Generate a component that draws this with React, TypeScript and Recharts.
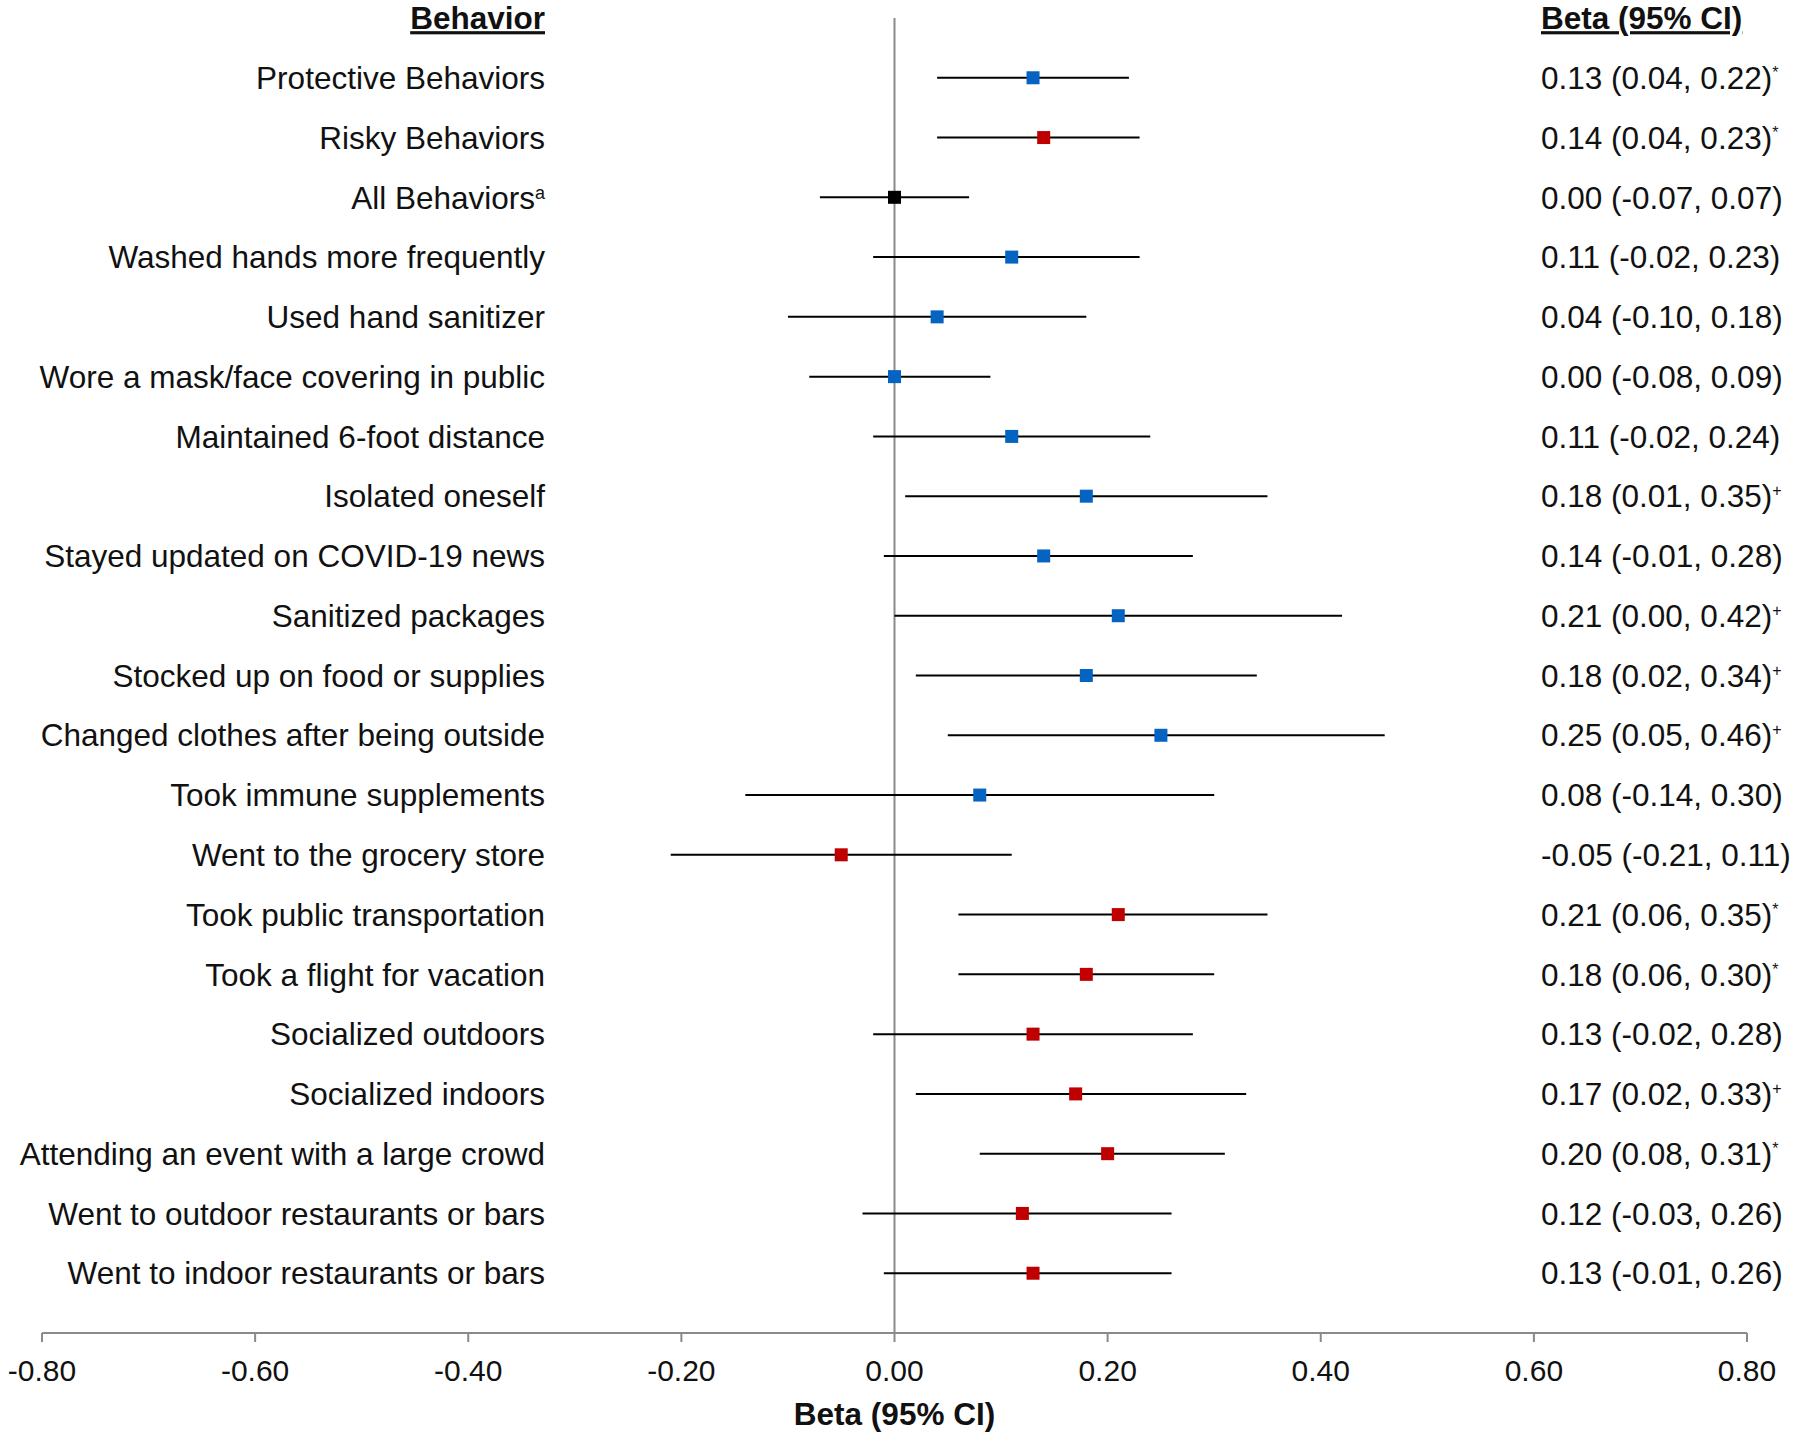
import { ScatterChart, Scatter, XAxis, YAxis, ReferenceLine, ErrorBar } from 'recharts';

const behaviors = [
    'Protective Behaviors',
    'Risky Behaviors',
    'All Behaviors',
    'Washed hands more frequently',
    'Used hand sanitizer',
    'Wore a mask/face covering in public',
    'Maintained 6-foot distance',
    'Isolated oneself',
    'Stayed updated on COVID-19 news',
    'Sanitized packages',
    'Stocked up on food or supplies',
    'Changed clothes after being outside',
    'Took immune supplements',
    'Went to the grocery store',
    'Took public transportation',
    'Took a flight for vacation',
    'Socialized outdoors',
    'Socialized indoors',
    'Attending an event with a large crowd',
    'Went to outdoor restaurants or bars',
    'Went to indoor restaurants or bars',
];
const labelNotes = ['', '', 'a', '', '', '', '', '', '', '', '', '', '', '', '', '', '', '', '', '', ''];
const groups = ['protective', 'risky', 'all', 'protective', 'protective', 'protective', 'protective', 'protective',
    'protective', 'protective', 'protective', 'protective', 'protective', 'risky', 'risky', 'risky', 'risky', 'risky',
    'risky', 'risky', 'risky'];

const beta = [0.13, 0.14, 0.0, 0.11, 0.04, 0.0, 0.11, 0.18, 0.14, 0.21, 0.18, 0.25, 0.08, -0.05, 0.21, 0.18, 0.13, 0.17, 0.2, 0.12, 0.13];
const lower = [0.04, 0.04, -0.07, -0.02, -0.1, -0.08, -0.02, 0.01, -0.01, 0.0, 0.02, 0.05, -0.14, -0.21, 0.06, 0.06, -0.02, 0.02, 0.08, -0.03, -0.01];
const upper = [0.22, 0.23, 0.07, 0.23, 0.18, 0.09, 0.24, 0.35, 0.28, 0.42, 0.34, 0.46, 0.3, 0.11, 0.35, 0.3, 0.28, 0.33, 0.31, 0.26, 0.26];
const significance = ['*', '*', '', '', '', '', '', '+', '', '+', '+', '+', '', '', '*', '*', '', '+', '*', '', ''];

const xTicks = [-0.8, -0.6, -0.4, -0.2, 0, 0.2, 0.4, 0.6, 0.8];
const rowTicks = [-1, ...behaviors.map((_, i) => i)];

const FONT = '"Liberation Sans", Arial, Helvetica, sans-serif';
const FONT_SIZE = 31.5;
const TICK_SIZE = 30;
const LABEL_X = 545;
const BETA_X = 1541;

const colors: Record<string, string> = {
    protective: '#0563C1',
    risky: '#C00000',
    all: '#000000',
};

const rows = behaviors.map((name, i) => ({
    row: i,
    name,
    group: groups[i],
    beta: beta[i],
    err: [beta[i] - lower[i], upper[i] - beta[i]],
}));

const fmt = (v: number) => v.toFixed(2);

// one tick per row: behaviour name on the left, beta text in the right column
function RowTick({ y, payload }: any) {
    const i = payload.value;
    const common = { y, dy: '0.355em', fontFamily: FONT, fontSize: FONT_SIZE, fill: '#111' };
    if (i === -1) {
        return (
            <g>
                <text {...common} x={LABEL_X} textAnchor="end" fontWeight="bold" style={{ textDecoration: 'underline' }}>
                    Behavior
                </text>
                <text {...common} x={BETA_X} textAnchor="start" fontWeight="bold" style={{ textDecoration: 'underline' }}>
                    Beta (95% CI)
                </text>
            </g>
        );
    }
    return (
        <g>
            <text {...common} x={LABEL_X} textAnchor="end">
                {behaviors[i]}
                {labelNotes[i] && <tspan dy={-10} fontSize={18}>{labelNotes[i]}</tspan>}
            </text>
            <text {...common} x={BETA_X} textAnchor="start">
                {`${fmt(beta[i])} (${fmt(lower[i])}, ${fmt(upper[i])})`}
                {significance[i] && <tspan dy={-11} fontSize={16}>{significance[i]}</tspan>}
            </text>
        </g>
    );
}

const square = (fill: string) => (props: any) => {
    const { cx, cy } = props;
    return <rect x={cx - 6.5} y={cy - 6.5} width={13} height={13} fill={fill} />;
};

export default function App() {
    return (
        <div style={{ position: 'absolute', left: 0, top: 0, width: 1800, height: 1437, background: '#fff' }}>
            <ScatterChart width={1800} height={1437} margin={{ top: 18, right: 53, bottom: 0, left: 41 }}>
                <XAxis
                    type="number"
                    dataKey="beta"
                    domain={[-0.8, 0.8]}
                    ticks={xTicks}
                    tickFormatter={fmt}
                    height={104}
                    stroke="#8a8a8a"
                    strokeWidth={2}
                    tickSize={9}
                    tickMargin={18}
                    tick={{ fill: '#111', fontFamily: FONT, fontSize: TICK_SIZE }}
                    label={{
                        value: 'Beta (95% CI)',
                        position: 'insideBottom',
                        offset: 12,
                        fill: '#111',
                        fontFamily: FONT,
                        fontSize: FONT_SIZE,
                        fontWeight: 'bold',
                    }}
                />
                <YAxis
                    type="number"
                    dataKey="row"
                    domain={[-1, 21]}
                    ticks={rowTicks}
                    interval={0}
                    reversed
                    width={1}
                    axisLine={false}
                    tickLine={false}
                    tick={<RowTick />}
                />
                <ReferenceLine x={0} stroke="#8a8a8a" strokeWidth={2} />
                {['protective', 'risky', 'all'].map((g) => (
                    <Scatter
                        key={g}
                        data={rows.filter((r) => r.group === g)}
                        fill={colors[g]}
                        shape={square(colors[g])}
                        isAnimationActive={false}
                    >
                        <ErrorBar dataKey="err" direction="x" width={0} stroke="#000" strokeWidth={2} />
                    </Scatter>
                ))}
            </ScatterChart>
        </div>
    );
}
